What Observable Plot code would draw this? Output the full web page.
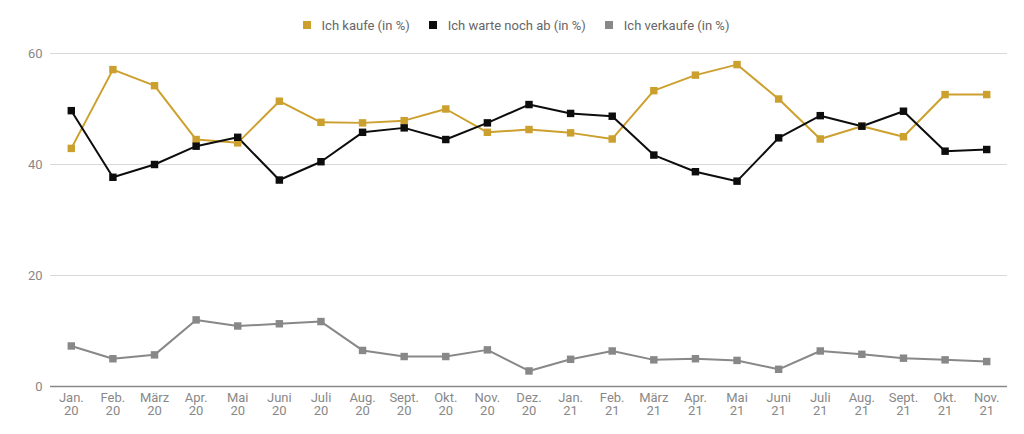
<!DOCTYPE html>
<html><head><meta charset="utf-8">
<script src="https://cdn.jsdelivr.net/npm/d3@7"></script>
<script src="https://cdn.jsdelivr.net/npm/@observablehq/plot@0.6"></script>
<style>
body{margin:0;background:#fff;font-family:Roboto,sans-serif;}
#legend{height:44px;display:flex;justify-content:center;align-items:center;padding-left:8px;padding-top:6px;box-sizing:border-box;font-size:13px;color:#666;}
.item{display:flex;align-items:center;margin:0 9.5px;}
.sw{width:8px;height:8px;margin-right:11px;}
</style></head>
<body>
<div id="legend"></div>
<div id="chart"></div>
<script>
const months = ["Jan.\n20","Feb.\n20","März\n20","Apr.\n20","Mai\n20","Juni\n20","Juli\n20","Aug.\n20","Sept.\n20","Okt.\n20","Nov.\n20","Dez.\n20","Jan.\n21","Feb.\n21","März\n21","Apr.\n21","Mai\n21","Juni\n21","Juli\n21","Aug.\n21","Sept.\n21","Okt.\n21","Nov.\n21"];
const seriesNames = ["Ich kaufe (in %)","Ich warte noch ab (in %)","Ich verkaufe (in %)"];
const seriesColors = ["#cca02e","#0d0d0d","#888888"];
const kaufe = [42.9,57.1,54.2,44.5,43.9,51.4,47.6,47.5,47.9,50.0,45.8,46.3,45.7,44.6,53.3,56.1,58.0,51.8,44.6,46.9,45.0,52.6,52.6];
const warte = [49.7,37.7,40.0,43.3,44.9,37.2,40.5,45.8,46.6,44.5,47.5,50.8,49.2,48.7,41.7,38.7,37.0,44.8,48.8,46.9,49.6,42.4,42.7];
const verkaufe = [7.3,5.0,5.7,12.0,10.9,11.3,11.7,6.5,5.4,5.4,6.6,2.8,4.9,6.4,4.8,5.0,4.7,3.1,6.4,5.8,5.1,4.8,4.5];
const yTicks = [0,20,40,60];

const all = [kaufe, warte, verkaufe];
const data = all.flatMap((vals, s) => vals.map((v, i) => ({month: months[i], value: v, series: seriesNames[s]})));

const legend = document.getElementById("legend");
seriesNames.forEach((n, i) => {
  const it = document.createElement("div"); it.className = "item";
  const sw = document.createElement("div"); sw.className = "sw"; sw.style.background = seriesColors[i];
  const t = document.createElement("span"); t.textContent = n;
  it.appendChild(sw); it.appendChild(t); legend.appendChild(it);
});

const chart = Plot.plot({
  width: 1024, height: 390,
  marginLeft: 50, marginRight: 17, marginTop: 9, marginBottom: 48,
  style: {fontFamily: "Roboto, sans-serif", background: "#fff"},
  x: {type: "point", domain: months, padding: 0.5, round: false},
  y: {domain: [0, 60]},
  color: {domain: seriesNames, range: seriesColors},
  marks: [
    Plot.gridY(yTicks.filter(d => d > 0), {stroke: "#d9d9d9", strokeOpacity: 1, strokeWidth: 1}),
    Plot.ruleY([0], {stroke: "#888", strokeWidth: 1.5}),
    Plot.axisY({ticks: yTicks, tickSize: 0, tickPadding: 8, fontSize: 13, color: "#888", label: null}),
    Plot.axisX({tickSize: 0, tickPadding: 6, fontSize: 13, lineHeight: 1.0, color: "#888", label: null}),
    Plot.line(data, {x: "month", y: "value", stroke: "series", strokeWidth: 2}),
    Plot.dot(data, {x: "month", y: "value", fill: "series", symbol: "square", r: 4.2})
  ]
});
document.getElementById("chart").appendChild(chart);
</script>
</body></html>
